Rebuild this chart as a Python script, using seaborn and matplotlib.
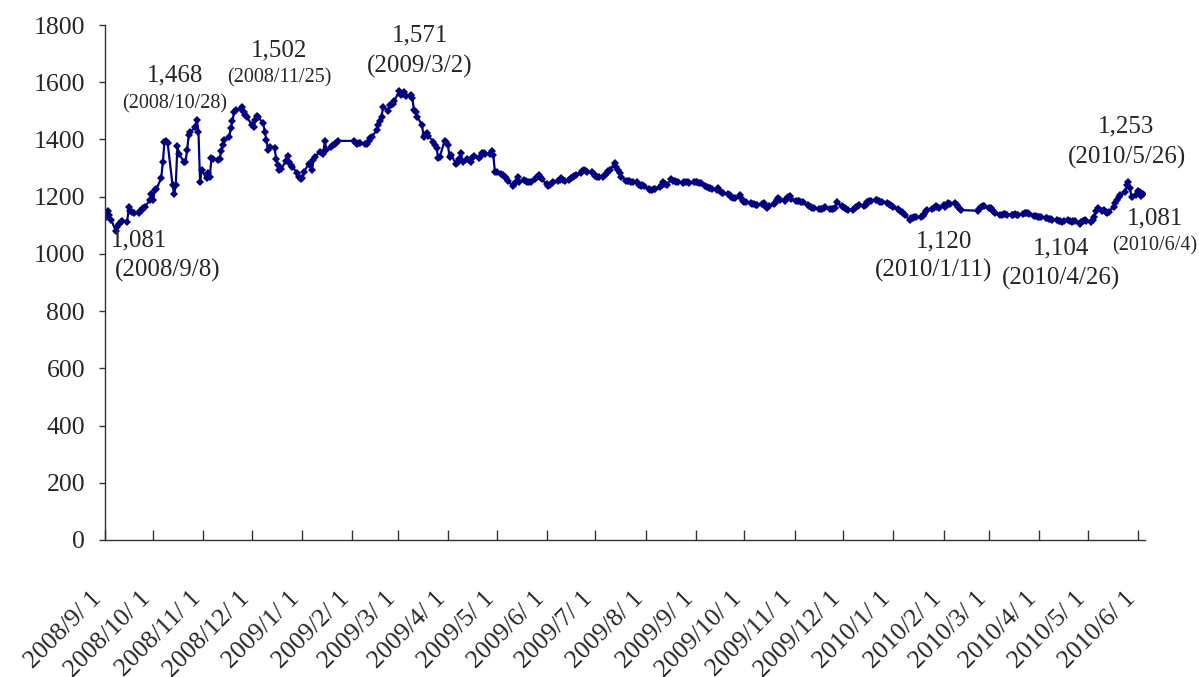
import numpy as np
import pandas as pd
import matplotlib
matplotlib.use("Agg")
import matplotlib.pyplot as plt
import matplotlib.transforms as mtrans
import seaborn as sns

# daily values, one row per week (Mon..Fri), None = market closed
weeks = [
    [1124, 1140, 1150, 1135, 1120],
    [1081, 1095, 1105, 1110, 1115],
    [1113, 1163, 1150, 1145, 1142],
    [1142, 1150, 1155, 1159, 1163],
    [1190, 1209, 1188, 1223, 1226],
    [1265, 1320, 1390, 1396, 1386],
    [1241, 1209, 1241, 1377, 1350],
    [1322, 1322, 1363, 1415, 1425],
    [1445, 1468, 1427, 1252, 1293],
    [1264, 1282, 1268, 1334, 1330],
    [1328, 1330, 1360, 1380, 1398],
    [1410, 1440, 1465, 1497, 1502],
    [1505, 1512, 1497, 1485, 1478],
    [1450, 1445, 1467, 1482, 1477],
    [1456, 1425, 1398, 1363, 1375],
    [1369, 1330, 1310, 1293, 1296],
    [1325, 1342, 1320, 1311, 1305],
    [1282, 1270, 1262, 1264, 1285],
    [1315, 1310, 1293, 1328, 1340],
    [1357, 1352, 1349, 1395, 1363],
    [1372, 1381, 1383, 1386, 1395],
    [None, None, None, None, None],
    [1395, 1388, 1384, 1386, 1389],
    [1384, 1384, 1395, 1404, 1408],
    [1433, 1450, 1465, 1480, 1514],
    [1500, 1520, 1522, 1523, 1535],
    [1571, 1555, 1560, 1567, 1552],
    [1555, 1545, 1503, 1497, 1480],
    [1450, 1410, 1415, 1421, 1412],
    [1392, 1380, 1369, 1334, 1340],
    [1396, 1390, 1380, 1340, 1346],
    [1314, 1322, 1330, 1354, 1322],
    [1330, 1328, 1322, 1335, 1342],
    [1335, 1339, 1354, 1351, 1349],
    [1349, 1361, 1346, 1287, 1285],
    [1280, 1276, 1270, 1264, 1255],
    [1237, 1245, 1253, 1270, 1253],
    [1260, 1255, 1253, 1250, 1250],
    [1262, 1268, 1276, 1268, 1261],
    [1244, 1238, 1240, 1248, 1253],
    [1256, 1260, 1264, 1258, 1256],
    [1260, 1264, 1268, 1272, 1276],
    [1282, 1290, 1293, 1288, 1287],
    [1287, 1280, 1272, 1268, 1267],
    [1270, 1276, 1282, 1288, 1293],
    [1319, 1305, 1293, 1282, 1270],
    [1256, 1256, 1255, 1253, 1252],
    [1250, 1240, 1237, 1240, 1236],
    [1226, 1223, 1224, 1226, 1226],
    [1233, 1242, 1252, 1246, 1241],
    [1261, 1256, 1254, 1252, 1250],
    [1247, 1250, 1252, 1250, 1248],
    [1250, 1252, 1250, 1248, 1247],
    [1236, 1234, 1232, 1230, 1227],
    [1223, 1229, 1220, 1212, 1212],
    [1210, 1206, 1200, 1197, 1194],
    [1205, 1195, 1185, 1182, 1180],
    [1177, 1175, 1174, 1172, 1171],
    [1175, 1177, 1168, 1159, 1167],
    [1176, 1179, 1188, 1194, 1188],
    [1186, 1192, 1198, 1202, 1192],
    [1186, 1185, 1184, 1183, 1180],
    [1170, 1167, 1164, 1162, 1160],
    [1158, 1156, 1156, 1160, 1163],
    [1158, 1156, 1158, 1159, 1180],
    [1168, 1163, 1159, 1156, 1154],
    [1155, 1159, 1163, 1168, 1171],
    [1166, 1172, 1180, 1184, 1186],
    [1188, 1187, 1185, 1182, 1180],
    [1177, 1174, 1171, 1168, 1165],
    [1156, 1150, 1146, 1142, 1135],
    [1120, 1125, 1127, 1128, 1128],
    [1128, 1133, 1140, 1150, 1153],
    [1156, 1162, 1167, 1163, 1159],
    [1170, 1165, 1172, 1177, 1175],
    [1179, 1172, 1165, 1158, 1153],
    [None, None, None, None, None],
    [1151, 1158, 1165, 1166, 1167],
    [1161, 1159, 1152, 1147, 1144],
    [1136, 1137, 1138, 1139, 1137],
    [1136, 1137, 1138, 1137, 1136],
    [1139, 1142, 1144, 1142, 1140],
    [1134, 1131, 1130, 1129, 1128],
    [1125, 1124, 1122, 1121, 1120],
    [1118, 1116, 1114, 1113, 1115],
    [1117, 1115, 1113, 1114, 1115],
    [1104, 1110, 1115, 1118, 1116],
    [1113, 1120, 1130, 1150, 1159],
    [1150, 1153, 1145, 1142, 1148],
    [1165, 1177, 1190, 1198, 1205],
    [1218, 1240, 1253, 1229, 1200],
    [1206, 1221, 1215, 1204, 1209],
]
start_date = "2008-09-01"

month_ticks = pd.date_range("2008-09-01", "2010-06-01", freq="MS")
tick_labels = [
    "2008/9/ 1", "2008/10/ 1", "2008/11/ 1", "2008/12/ 1",
    "2009/1/ 1", "2009/2/ 1", "2009/3/ 1", "2009/4/ 1", "2009/5/ 1",
    "2009/6/ 1", "2009/7/ 1", "2009/8/ 1", "2009/9/ 1", "2009/10/ 1",
    "2009/11/ 1", "2009/12/ 1", "2010/1/ 1", "2010/2/ 1", "2010/3/ 1",
    "2010/4/ 1", "2010/5/ 1", "2010/6/ 1",
]

# annotations: (value text, date text, big date font?)
notes = [
    ("1,468", "(2008/10/28)", False),
    ("1,502", "(2008/11/25)", False),
    ("1,571", "(2009/3/2)", True),
    ("1,081", "(2008/9/8)", True),
    ("1,120", "(2010/1/11)", True),
    ("1,104", "(2010/4/26)", True),
    ("1,253", "(2010/5/26)", True),
    ("1,081", "(2010/6/4)", False),
]
# figure pixel centres of the value line and the date line
note_pos = [
    ((175, 75), (175, 104)),
    ((279, 50), (279, 78)),
    ((420, 35), (420, 66)),
    ((139, 240), (168, 270)),
    ((944, 241), (934, 270)),
    ((1061, 248), (1061, 278)),
    ((1126, 126), (1127, 157)),
    ((1155, 218), (1155, 246)),
]

dates = pd.bdate_range(start_date, periods=5 * len(weeks))
vals = [v for row in weeks for v in row]
df = pd.DataFrame({"date": dates, "value": vals}).dropna()

sns.set_style("white")
plt.rcParams["font.family"] = ["Liberation Serif", "DejaVu Serif"]

W, H = 1199, 677
fig = plt.figure(figsize=(W / 100, H / 100), dpi=100)
ax = fig.add_axes([104.5 / W, 1 - 540 / H, 1040 / W, 515 / H])

sns.lineplot(data=df, x="date", y="value", ax=ax, color="#000080",
             marker="D", markersize=3.8, markeredgewidth=0, linewidth=1.6,
             estimator=None, sort=False)

ax.set_xlim(pd.Timestamp("2008-09-01"), pd.Timestamp("2010-06-05"))
ax.set_ylim(0, 1800)
ax.set_yticks(range(0, 1801, 200))
ax.set_xticks(month_ticks)
ax.set_xticklabels(tick_labels)
ax.set_xlabel("")
ax.set_ylabel("")

for s in ["top", "right"]:
    ax.spines[s].set_visible(False)
for s in ["left", "bottom"]:
    ax.spines[s].set_color("#333333")
    ax.spines[s].set_linewidth(1.0)

ax.tick_params(axis="y", left=True, direction="out", length=4, width=1,
               color="#333333", pad=10, labelsize=18.5)
ax.tick_params(axis="x", bottom=True, direction="in", length=7, width=1,
               color="#333333", pad=40, labelsize=18.5)

offset = mtrans.ScaledTranslation(-6 / 100, 0, fig.dpi_scale_trans)
for lab in ax.get_xticklabels():
    lab.set_rotation(45)
    lab.set_ha("right")
    lab.set_va("center")
    lab.set_rotation_mode("anchor")
    lab.set_transform(lab.get_transform() + offset)

for (num, day, big), (p1, p2) in zip(notes, note_pos):
    fig.text(p1[0] / W, 1 - p1[1] / H, num, ha="center", va="center", fontsize=18)
    fig.text(p2[0] / W, 1 - p2[1] / H, day, ha="center", va="center",
             fontsize=18 if big else 14.5)

fig.savefig("out.png", dpi=100)
